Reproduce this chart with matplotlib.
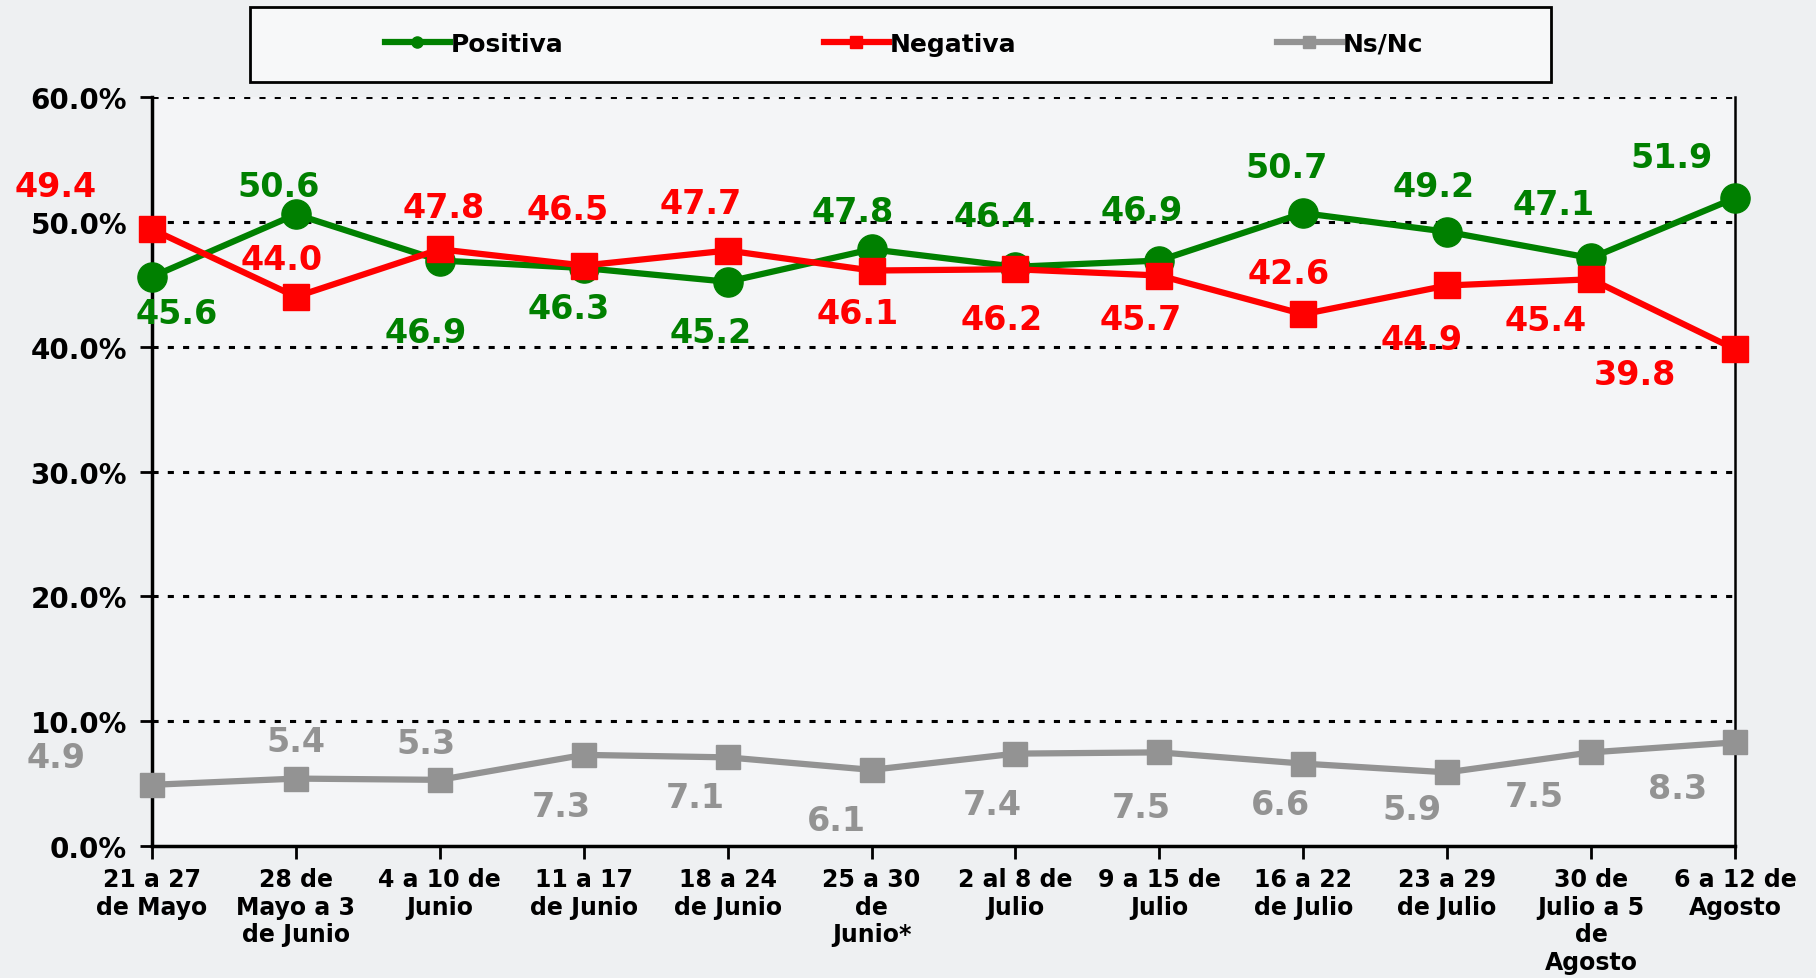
import matplotlib
matplotlib.use("Agg")
import matplotlib.pyplot as plt
from matplotlib.lines import Line2D
from matplotlib.patches import Rectangle
from matplotlib.ticker import FuncFormatter, MultipleLocator

plt.rcParams['font.family'] = ['DejaVu Sans']

# ---- data ----
categories = ["21 a 27\nde Mayo", "28 de\nMayo a 3\nde Junio", "4 a 10 de\nJunio",
              "11 a 17\nde Junio", "18 a 24\nde Junio", "25 a 30\nde\nJunio*",
              "2 al 8 de\nJulio", "9 a 15 de\nJulio", "16 a 22\nde Julio",
              "23 a 29\nde Julio", "30 de\nJulio a 5\nde\nAgosto", "6 a 12 de\nAgosto"]
positiva = [45.6, 50.6, 46.9, 46.3, 45.2, 47.8, 46.4, 46.9, 50.7, 49.2, 47.1, 51.9]
negativa = [49.4, 44.0, 47.8, 46.5, 47.7, 46.1, 46.2, 45.7, 42.6, 44.9, 45.4, 39.8]
nsnc = [4.9, 5.4, 5.3, 7.3, 7.1, 6.1, 7.4, 7.5, 6.6, 5.9, 7.5, 8.3]
series_names = ["Positiva", "Negativa", "Ns/Nc"]

# ---- label offsets (pixels at reference display scale) ----
off_pos = [(21, 32), (-15, -24), (-12, 62), (-13, 35), (-15, 44), (-16, -33),
           (-18, -43), (-15, -43), (-14, -39), (-12, -39), (-32, -46), (-55, -35)]
off_neg = [(-83, -37), (-12, -32), (3, -36), (-14, -48), (-23, -41), (-12, 37),
           (-12, 43), (-16, 38), (-13, -35), (-22, 47), (-39, 36), (-86, 22)]
off_ns = [(-83, -24), (0, -32), (-12, -31), (-19, 45), (-28, 35), (-30, 44),
          (-20, 44), (-16, 48), (-20, 35), (-30, 32), (-49, 38), (-50, 40)]
K = 1.158 * 0.72  # display px -> points

GREEN = '#008000'
RED = '#ff0000'
GRAY = '#939393'

W, H = 1816, 979
fig = plt.figure(figsize=(W / 100, H / 100), dpi=100)
fig.patch.set_facecolor('#eef0f2')

ax = fig.add_axes([152 / W, 1 - 847 / H, (1735 - 152) / W, (847 - 98) / H])
ax.set_facecolor('#f4f5f7')

x = list(range(len(categories)))

ax.plot(x, positiva, color=GREEN, lw=4.5, marker='o', ms=21, zorder=4, clip_on=False)
ax.plot(x, negativa, color=RED, lw=4.5, marker='s', ms=19, zorder=5, clip_on=False)
ax.plot(x, nsnc, color=GRAY, lw=4.5, marker='s', ms=17, zorder=3, clip_on=False)

def label(vals, offs, color):
    for xi, v, (dx, dy) in zip(x, vals, offs):
        ax.annotate(f"{v:.1f}", (xi, v), xytext=(dx * K, -dy * K),
                    textcoords='offset points', ha='center', va='center',
                    fontsize=24, fontweight='bold', color=color, zorder=6,
                    annotation_clip=False)

label(positiva, off_pos, GREEN)
label(negativa, off_neg, RED)
label(nsnc, off_ns, GRAY)

ax.set_xlim(0, 11)
ax.set_ylim(0, 60)
ax.yaxis.set_major_locator(MultipleLocator(10))
ax.yaxis.set_major_formatter(FuncFormatter(lambda v, p: f"{v:.1f}%"))
for yv in range(10, 61, 10):
    ax.axhline(yv, color='black', lw=2.2, ls=(0, (2, 3)), zorder=1)

ax.set_xticks(x)
ax.set_xticklabels(categories, fontsize=17, fontweight='bold', linespacing=1.2)
for t in ax.get_yticklabels():
    t.set_fontsize(20)
    t.set_fontweight('bold')
ax.tick_params(axis='y', length=9, width=2, pad=9, direction='out')
ax.tick_params(axis='x', length=9, width=2, pad=6, direction='out')

ax.spines['top'].set_visible(False)
for s in ['left', 'bottom', 'right']:
    ax.spines[s].set_linewidth(2.5)
    ax.spines[s].set_color('black')
ax.spines['right'].set_linewidth(1.8)

# legend frame
fig.patches.append(Rectangle((250 / W, 1 - 83 / H), (1551 - 250) / W, (83 - 8) / H,
                             transform=fig.transFigure, facecolor='#f7f8f9',
                             edgecolor='black', lw=2, zorder=0))
handles = [Line2D([], [], color=GREEN, lw=4.5, marker='o', ms=8),
           Line2D([], [], color=RED, lw=4.5, marker='s', ms=9),
           Line2D([], [], color=GRAY, lw=4.5, marker='s', ms=9)]
fig.legend(handles, series_names, loc='center', bbox_to_anchor=(904 / W, 1 - 45 / H),
           ncol=3, frameon=False, prop={'size': 18, 'weight': 'bold'},
           handlelength=2.6, handletextpad=0.05, columnspacing=10.4)

fig.savefig('out.png', dpi=100, facecolor=fig.get_facecolor())
